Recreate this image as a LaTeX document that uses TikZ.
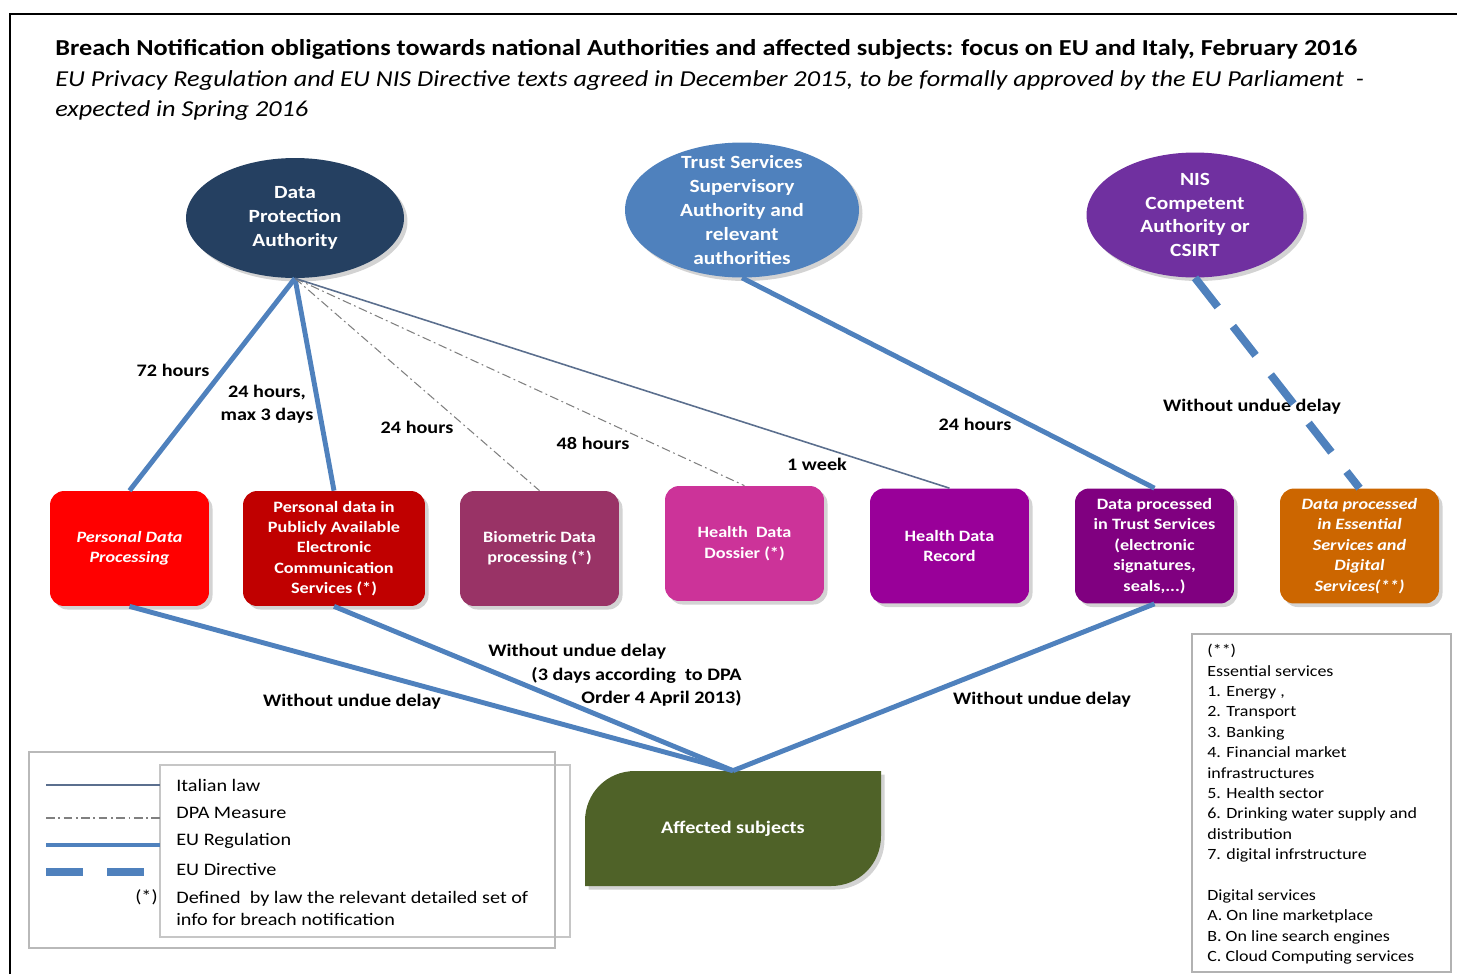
\documentclass[tikz,border=0pt]{standalone}
\usepackage{fontspec}
\setmainfont{Carlito}[FakeStretch=1.15]
\usepackage{tikz}
\usetikzlibrary{shadows}
\usetikzlibrary{arrows.meta}
\usetikzlibrary{shapes.geometric}
\usetikzlibrary{positioning}

\definecolor{dpanavy}{HTML}{254061}
\definecolor{trustblue}{HTML}{4F81BD}
\definecolor{nispurple}{HTML}{7030A0}
\definecolor{regblue}{HTML}{4F81BD}
\definecolor{lawgray}{HTML}{5B6F8E}
\definecolor{boxred}{HTML}{FF0000}
\definecolor{boxdarkred}{HTML}{C00000}
\definecolor{boxplum}{HTML}{993366}
\definecolor{boxpink}{HTML}{CC3399}
\definecolor{boxmagenta}{HTML}{990099}
\definecolor{boxviolet}{HTML}{800080}
\definecolor{boxorange}{HTML}{CC6600}
\definecolor{affgreen}{HTML}{4F6228}

\begin{document}
\begin{tikzpicture}[x=0.02cm, y=-0.02cm,
  authority/.style={ellipse, inner sep=0pt,
    drop shadow={opacity=0.35, shadow xshift=2pt, shadow yshift=-2pt}},
  authtext/.style={text=white, align=center, font=\fontsize{10.6}{13.6}\selectfont\bfseries},
  databox/.style={rectangle, rounded corners=8pt, minimum width=3.18cm, minimum height=2.3cm,
    inner sep=1pt, text=white, align=center, font=\fontsize{9}{11.6}\selectfont\bfseries,
    drop shadow={opacity=0.35, shadow xshift=2pt, shadow yshift=-2pt}},
  hours/.style={inner sep=0pt, align=center, font=\fontsize{10}{12.8}\selectfont\bfseries},
  legendtext/.style={anchor=west, inner sep=0pt, align=left, font=\fontsize{10}{13}\selectfont},
  euregulation/.style={draw=regblue, line width=2.8pt},
  eudirective/.style={draw=regblue, line width=4.5pt, dash pattern=on 21pt off 14pt},
  italianlaw/.style={draw=lawgray, line width=0.9pt},
  dpameasure/.style={draw=gray, line width=0.6pt, dash pattern=on 5pt off 2pt on 1pt off 2pt}]
  \useasboundingbox (0,0) rectangle (1457,974);

  % frame and title
  \draw[line width=1.2pt] (10,974) -- (10,14) -- (1457,14);
  \node[anchor=west, inner sep=0pt, font=\fontsize{13}{16}\selectfont\bfseries] (title) at (55,49)
    {Breach Notification obligations towards national Authorities and affected subjects: focus on EU and Italy, February 2016};
  \node[anchor=north west, inner sep=0pt, align=left, font=\fontsize{13}{17}\selectfont\itshape] (subtitle) at (55,70)
    {EU Privacy Regulation and EU NIS Directive texts agreed in December 2015, to be formally approved by the EU Parliament\ \ -\\
     expected in Spring 2016};

  % authorities
  \node[authority, fill=dpanavy, minimum width=4.36cm, minimum height=2.4cm,
    label={[authtext]center:Data\\Protection\\Authority}] (dpa) at (295,218) {};
  \node[authority, fill=trustblue, minimum width=4.68cm, minimum height=2.7cm,
    label={[authtext]center:Trust Services\\Supervisory\\Authority and\\relevant\\authorities}] (trust) at (742,210) {};
  \node[authority, fill=nispurple, minimum width=4.34cm, minimum height=2.5cm,
    label={[authtext]center:NIS\\Competent\\Authority or\\CSIRT}] (nis) at (1195,215) {};

  % data processing boxes
  \node[databox, fill=boxred, font=\fontsize{9}{11.6}\selectfont\bfseries\itshape] (pdp) at (129.5,548.5) {Personal Data\\Processing};
  \node[databox, fill=boxdarkred, minimum width=3.64cm] (pub) at (334,548.5)
    {Personal data in\\Publicly Available\\Electronic\\Communication\\Services (*)};
  \node[databox, fill=boxplum] (bio) at (539.5,548.5) {Biometric Data\\processing (*)};
  \node[databox, fill=boxpink] (dos) at (744.5,543.5) {Health\ \ Data\\Dossier (*)};
  \node[databox, fill=boxmagenta] (rec) at (949.5,546) {Health Data\\Record};
  \node[databox, fill=boxviolet] (tsd) at (1154.5,546)
    {Data processed\\in Trust Services\\(electronic\\signatures,\\seals,...)};
  \node[databox, fill=boxorange, font=\fontsize{9}{11.6}\selectfont\bfseries\itshape] (ess) at (1359.5,546)
    {Data processed\\in Essential\\Services and\\Digital\\Services(**)};

  % affected subjects
  \fill[affgreen, drop shadow={opacity=0.35, shadow xshift=2pt, shadow yshift=-2pt}]
    (585,886) -- (585,821) .. controls (585,793) and (607,771) .. (635,771) -- (881,771)
    -- (881,836) .. controls (881,864) and (859,886) .. (831,886) -- cycle;
  \node[minimum width=5.92cm, minimum height=2.3cm, text=white, font=\fontsize{10}{12}\selectfont\bfseries] (aff) at (733,828.5) {Affected subjects};

  % time labels
  \node[hours] (h72) at (173,370) {72 hours};
  \node[hours] (h24max) at (267,404) {24 hours,\\max 3 days};
  \node[hours] (h24bio) at (417,427) {24 hours};
  \node[hours] (h48) at (593,443) {48 hours};
  \node[hours] (hweek) at (817,464) {1 week};
  \node[hours] (h24trust) at (975,424) {24 hours};
  \node[hours] (hnis) at (1252,407) {Without undue delay};
  \node[hours] (hpdp) at (352,702) {Without undue delay};
  \node[hours, anchor=west] (hpub) at (488,652) {Without undue delay};
  \node[hours, anchor=east, align=right] (hdpa) at (742,687) {(3 days according\ \ to DPA\\Order 4 April 2013)};
  \node[hours] (htsd) at (1042,700) {Without undue delay};

  % notification lines
  \draw[euregulation] (dpa.south) -- (pdp.north);
  \draw[euregulation] (dpa.south) -- (pub.north);
  \draw[dpameasure] (dpa.south) -- (bio.north);
  \draw[dpameasure] (dpa.south) -- (dos.north);
  \draw[italianlaw] (dpa.south) -- (rec.north);
  \draw[euregulation] (trust.south) -- (tsd.north);
  \draw[eudirective] (nis.south) -- (ess.north);
  \draw[euregulation] (pdp.south) -- (aff.north);
  \draw[euregulation] (pub.south) -- (aff.north);
  \draw[euregulation] (tsd.south) -- (aff.north);

  % legend
  \draw[gray!45, line width=0.6pt] (160,765) rectangle (570,937);
  \draw[gray!55, line width=1.6pt] (29,752) rectangle (555,948);
  \draw[italianlaw] (46,785) -- (160,785);
  \draw[dpameasure] (46,818) -- (160,818);
  \draw[euregulation] (46,845) -- (160,845);
  \draw[eudirective] (46,872) -- (147,872);
  \node[legendtext] (lglaw) at (176,785) {Italian law};
  \node[legendtext] (lgdpa) at (176,813) {DPA Measure};
  \node[legendtext] (lgreg) at (176,841) {EU Regulation};
  \node[legendtext] (lgdir) at (176,869) {EU Directive};
  \node[legendtext, anchor=east] (lgstar) at (158,897) {(*)};
  \node[legendtext] (lgdef) at (176,908.5) {Defined\ \ by law the relevant detailed set of\\info for breach notification};

  % services note
  \draw[gray!60, line width=0.8pt] (1192,634) rectangle (1451,972);
  \node[anchor=north west, inner sep=0pt, align=left, font=\fontsize{8.9}{11.6}\selectfont] (notes) at (1207,644)
    {(**)\\Essential services\\1. Energy ,\\2. Transport\\3. Banking\\4. Financial market\\infrastructures\\
     5. Health sector\\6. Drinking water supply and\\distribution\\7. digital infrstructure\\[11.6pt]
     Digital services\\A. On line marketplace\\B. On line search engines\\C. Cloud Computing services};
\end{tikzpicture}
\end{document}
